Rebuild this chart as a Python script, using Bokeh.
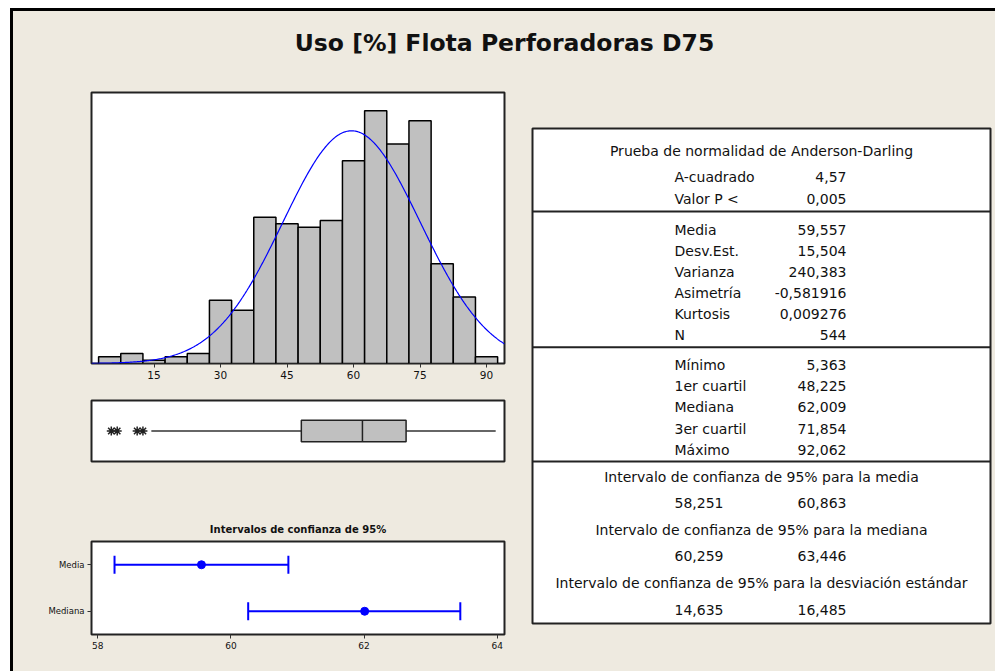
import numpy as np
from bokeh.plotting import figure
from bokeh.layouts import row, column, Spacer
from bokeh.models import Range1d, FixedTicker, FactorRange, ColumnDataSource
from bokeh.core.properties import value
from bokeh.embed import file_html
from bokeh.resources import INLINE

# ---------------- data ----------------
TITLE = "Uso [%] Flota Perforadoras D75"
bin_centers = [5, 10, 15, 20, 25, 30, 35, 40, 45, 50, 55, 60, 65, 70, 75, 80, 85, 90]
bin_counts = [2, 3, 1, 2, 3, 19, 16, 44, 42, 41, 43, 61, 76, 66, 73, 30, 20, 2]
BIN_WIDTH = 5
hist_ticks = [15, 30, 45, 60, 75, 90]

mean_val = 59.557
sd_val = 15.504
n_val = 544
q1_val = 48.225
median_val = 62.009
q3_val = 71.854
max_val = 92.062
whisker_low = 14.4
outliers = [5.363, 6.7, 11.2, 12.5]

ci_title = "Intervalos de confianza de 95%"
ci_labels = ["Media", "Mediana"]
ci_center = [59.557, 62.009]
ci_low = [58.251, 60.259]
ci_high = [60.863, 63.446]
ci_ticks = [58, 60, 62, 64]

ad_header = "Prueba de normalidad de Anderson-Darling"
ad_labels = ["A-cuadrado", "Valor P <"]
ad_values = ["4,57", "0,005"]
mom_labels = ["Media", "Desv.Est.", "Varianza", "Asimetría", "Kurtosis", "N"]
mom_values = ["59,557", "15,504", "240,383", "-0,581916", "0,009276", "544"]
qua_labels = ["Mínimo", "1er cuartil", "Mediana", "3er cuartil", "Máximo"]
qua_values = ["5,363", "48,225", "62,009", "71,854", "92,062"]
int_titles = ["Intervalo de confianza de 95% para la media",
              "Intervalo de confianza de 95% para la mediana",
              "Intervalo de confianza de 95% para la desviación estándar"]
int_low = ["58,251", "60,259", "14,635"]
int_high = ["60,863", "63,446", "16,485"]

# ---------------- style ----------------
BG = "#EEEAE0"
GRAY = "#C0C0C0"
BLUE = "#0000FF"
FONT = "DejaVu Sans"
TXT = "#111111"
BGS = {"background-color": BG}


def base_fig(w, h, **kw):
    p = figure(width=w, height=h, toolbar_location=None, output_backend="svg",
               background_fill_color="white", border_fill_color=BG, **kw)
    p.grid.visible = False
    return p


def solid(w, h, color):
    p = figure(width=w, height=h, toolbar_location=None, output_backend="svg",
               x_axis_location=None, y_axis_location=None,
               background_fill_color=color, border_fill_color=color,
               outline_line_color=None, min_border=0,
               styles={"background-color": color})
    p.grid.visible = False
    return p


# ---------------- title ----------------
pt = figure(width=982, height=70, toolbar_location=None, output_backend="svg",
            x_axis_location=None, y_axis_location=None,
            x_range=Range1d(0, 1), y_range=Range1d(0, 70),
            background_fill_color=BG, border_fill_color=BG,
            outline_line_color=None, min_border=0)
pt.grid.visible = False
pt.text(x=[0.5], y=[39], text=[TITLE], text_align="center", text_baseline="middle",
        text_font=value(FONT), text_font_style="bold", text_font_size="23.5px",
        text_color=TXT)

# ---------------- histogram ----------------
xr = Range1d(0.9, 94.05)
ph = base_fig(510, 307, x_range=xr, y_range=Range1d(0, 81.5),
              y_axis_location=None, min_border_left=77, min_border_right=19,
              min_border_top=11, min_border_bottom=25)
ph.outline_line_color = "#222222"
ph.outline_line_width = 2
ph.vbar(x=bin_centers, top=bin_counts, width=BIN_WIDTH, bottom=0,
        fill_color=GRAY, line_color="black", line_width=1.5)
xs = np.linspace(0.9, 94.05, 400)
ys = n_val * BIN_WIDTH * np.exp(-0.5 * ((xs - mean_val) / sd_val) ** 2) / (sd_val * np.sqrt(2 * np.pi))
ph.line(xs, ys, line_color=BLUE, line_width=1.2)
ax = ph.xaxis[0]
ax.ticker = FixedTicker(ticks=hist_ticks)
ax.axis_line_color = None
ax.major_tick_out = 4
ax.major_tick_in = 0
ax.minor_tick_out = 0
ax.minor_tick_in = 0
ax.major_tick_line_color = "#333333"
ax.major_label_text_font = FONT
ax.major_label_text_font_size = "10.5px"
ax.major_label_text_color = TXT
ax.major_label_standoff = 3

# ---------------- boxplot ----------------
pb = base_fig(510, 87, x_range=xr, y_range=Range1d(0, 1),
              x_axis_location=None, y_axis_location=None,
              min_border_left=77, min_border_right=19,
              min_border_top=12, min_border_bottom=14)
pb.outline_line_color = "#222222"
pb.outline_line_width = 2
pb.segment(x0=[whisker_low, q3_val], y0=[0.5, 0.5], x1=[q1_val, max_val], y1=[0.5, 0.5],
           line_color="#333333", line_width=1.5)
pb.hbar(y=[0.5], left=[q1_val], right=[q3_val], height=0.35,
        fill_color=GRAY, line_color="#222222", line_width=1.5)
pb.segment(x0=[median_val], y0=[0.325], x1=[median_val], y1=[0.675],
           line_color="#222222", line_width=1.5)
pb.scatter(x=outliers, y=[0.5] * len(outliers), marker="asterisk", size=9,
           line_color="#222222", line_width=1.5)

# ---------------- CI plot ----------------
pc = base_fig(510, 196, x_range=Range1d(57.905, 64.11),
              y_range=FactorRange(factors=["Mediana", "Media"]),
              min_border_left=78, min_border_right=19,
              min_border_top=66, min_border_bottom=37,
              title=ci_title)
pc.title.align = "center"
pc.title.text_font = FONT
pc.title.text_font_size = "10px"
pc.title.text_font_style = "bold"
pc.title.text_color = TXT
pc.title.standoff = 14
pc.outline_line_color = "#222222"
pc.outline_line_width = 2
src = ColumnDataSource(dict(lab=ci_labels, c=ci_center, lo=ci_low, hi=ci_high))
pc.segment(x0="lo", y0="lab", x1="hi", y1="lab", source=src, line_color=BLUE, line_width=2)
pc.scatter(x="lo", y="lab", source=src, marker="dash", angle=np.pi / 2, size=18,
           line_color=BLUE, line_width=2)
pc.scatter(x="hi", y="lab", source=src, marker="dash", angle=np.pi / 2, size=18,
           line_color=BLUE, line_width=2)
pc.scatter(x="c", y="lab", source=src, marker="circle", size=8,
           fill_color=BLUE, line_color=BLUE)
for a in (pc.xaxis[0], pc.yaxis[0]):
    a.axis_line_color = None
    a.major_tick_out = 4
    a.major_tick_in = 0
    a.minor_tick_out = 0
    a.minor_tick_in = 0
    a.major_tick_line_color = "#333333"
    a.major_label_text_font = FONT
    a.major_label_text_color = TXT
    a.major_label_standoff = 3
pc.xaxis[0].ticker = FixedTicker(ticks=ci_ticks)
pc.xaxis[0].major_label_text_font_size = "9px"
pc.yaxis[0].major_label_text_font_size = "8.5px"

# ---------------- table ----------------
TW, TH = 458, 495
ptab = base_fig(472, 590, x_range=Range1d(0, TW), y_range=Range1d(TH, 0),
                x_axis_location=None, y_axis_location=None,
                min_border_left=9, min_border_right=5,
                min_border_top=47, min_border_bottom=48)
ptab.outline_line_color = "#222222"
ptab.outline_line_width = 2
sep_y = [83, 218.7, 333]
ptab.segment(x0=[0] * 3, x1=[TW] * 3, y0=sep_y, y1=sep_y, line_color="#222222", line_width=2)

LAB_X, VAL_X, MID_X = 142, 314, TW / 2
FS = "14px"
tkw = dict(text_font=value(FONT), text_font_size=FS, text_color=TXT, text_baseline="middle")


def block(labels, values, y0, dy):
    ys_ = [y0 + i * dy for i in range(len(labels))]
    ptab.text(x=[LAB_X] * len(labels), y=ys_, text=labels, text_align="left", **tkw)
    ptab.text(x=[VAL_X] * len(values), y=ys_, text=values, text_align="right", **tkw)


ptab.text(x=[MID_X], y=[22], text=[ad_header], text_align="center", **tkw)
block(ad_labels, ad_values, 48, 22)
block(mom_labels, mom_values, 101.3, 21.1)
block(qua_labels, qua_values, 236.3, 21.25)
iy = [348 + 2 * i * 26.6 for i in range(3)]
ptab.text(x=[MID_X] * 3, y=iy, text=int_titles, text_align="center", **tkw)
ptab.text(x=[LAB_X] * 3, y=[v + 26.6 for v in iy], text=int_low, text_align="left", **tkw)
ptab.text(x=[VAL_X] * 3, y=[v + 26.6 for v in iy], text=int_high, text_align="right", **tkw)

# ---------------- layout ----------------
left_col = column(ph, pb, pc, spacing=0, styles=BGS)
content = column(pt, row(left_col, ptab, spacing=0, styles=BGS), spacing=0, styles=BGS)
layout = column(
    Spacer(width=995, height=8),
    row(Spacer(width=10, height=3), solid(985, 3, "black"), spacing=0),
    row(Spacer(width=10, height=660), solid(3, 660, "black"), content, spacing=0),
    spacing=0,
)

open("out.html", "w").write(file_html(layout, INLINE))
